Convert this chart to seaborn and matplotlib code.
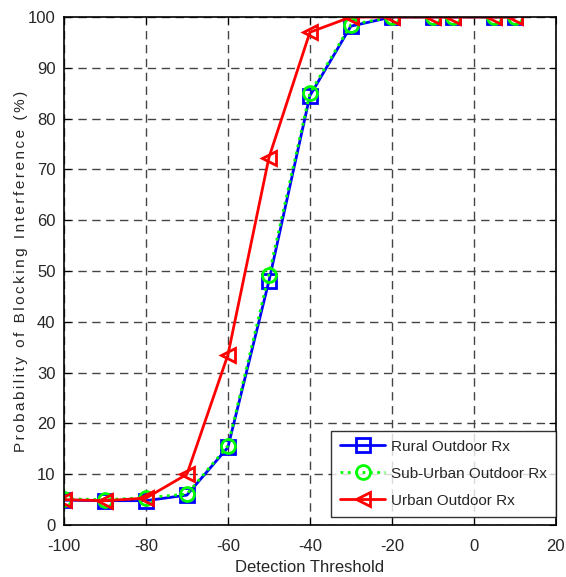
import matplotlib
matplotlib.use("Agg")
import matplotlib.pyplot as plt
import seaborn as sns
import pandas as pd

thresholds = [-100, -90, -80, -70, -60, -50, -40, -30, -20, -10, -5, 5, 10]
rural = [4.9, 4.8, 4.8, 5.9, 15.3, 48.0, 84.5, 98.2, 100, 100, 100, 100, 100]
suburban = [5.2, 5.0, 5.4, 6.1, 15.6, 49.3, 85.0, 98.5, 100, 100, 100, 100, 100]
urban = [5.0, 4.8, 5.3, 10.0, 33.5, 72.3, 97.0, 100, 100, 100, 100, 100, 100]

sns.set_style("ticks")
plt.rcParams['font.family'] = ['Liberation Sans', 'DejaVu Sans']
plt.rcParams['axes.unicode_minus'] = False

fig = plt.figure(figsize=(5.66, 5.77), dpi=100)
ax = fig.add_axes([0.113, 0.090, 0.869, 0.8805])

series = [
    ("Rural Outdoor Rx", rural, "#0000ff", "s", "-"),
    ("Sub-Urban Outdoor Rx", suburban, "#00ff00", "o", ":"),
    ("Urban Outdoor Rx", urban, "#ff0000", "<", "-"),
]
for name, vals, col, mk, ls in series:
    df = pd.DataFrame({"x": thresholds, "y": vals})
    sns.lineplot(data=df, x="x", y="y", ax=ax, color=col, marker=mk,
                 linestyle=ls, linewidth=2, markersize=10,
                 markerfacecolor="none", markeredgecolor=col,
                 markeredgewidth=2, label=name)

ax.set_xlim(-100, 20)
ax.set_ylim(0, 100)
ax.set_xticks(range(-100, 21, 20))
ax.set_yticks(range(0, 101, 10))
ax.grid(True, color="#444444", linestyle=(0, (6, 4)), linewidth=1)
ax.tick_params(direction="in", length=5, labelsize=12, top=True, right=True,
               labeltop=False, labelright=False, color="black")
ax.tick_params(axis="x", pad=10)
ax.tick_params(axis="y", pad=6)
for s in ax.spines.values():
    s.set_visible(True)
    s.set_color("black")
    s.set_linewidth(1.2)

ax.set_xlabel("Detection Threshold", fontsize=12, labelpad=4)
ylab = "\u2006".join("Probability of Blocking Interference (%)")
ax.set_ylabel(ylab, fontsize=11, labelpad=0)

leg = ax.legend(loc="lower right", fontsize=11, frameon=True, fancybox=False,
                edgecolor="black", handlelength=2.9, handletextpad=0.4,
                borderpad=0.6, labelspacing=0.85, borderaxespad=0,
                bbox_to_anchor=(1.0, 0.016))
leg.get_frame().set_linewidth(1)

fig.savefig("out.png", dpi=100)
